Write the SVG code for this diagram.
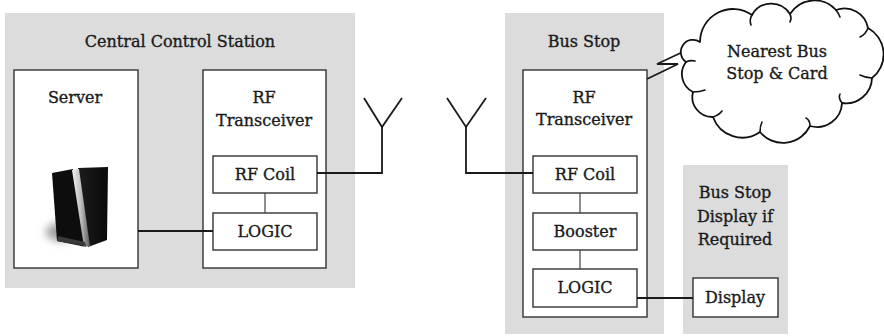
<svg xmlns="http://www.w3.org/2000/svg" width="884" height="336" viewBox="0 0 884 336">
  <defs>
    <style>
      .zone { fill: #dcdcdc; }
      .box { fill: #ffffff; stroke: #333333; stroke-width: 1.4; }
      .wire { fill: none; stroke: #1a1a1a; stroke-width: 1.8; stroke-linejoin: miter; }
      .link { fill: none; stroke: #444444; stroke-width: 1.2; }
      .label { font-family: "DejaVu Serif", "Liberation Serif", serif; font-size: 16px; fill: #1a1a1a; stroke: #1a1a1a; stroke-width: 0.35; text-anchor: middle; }
      .cloud { fill: #ffffff; stroke: #111111; stroke-width: 1.8; stroke-linejoin: round; }
      .curl { fill: none; stroke: #111111; stroke-width: 1.6; stroke-linecap: round; }
    </style>
    <linearGradient id="stripGrad" x1="0" y1="0" x2="1" y2="0">
      <stop offset="0" stop-color="#f2f2f2"/>
      <stop offset="0.5" stop-color="#bdbdbd"/>
      <stop offset="1" stop-color="#5a5a5a"/>
    </linearGradient>
    <linearGradient id="sideGrad" x1="0" y1="0" x2="1" y2="0">
      <stop offset="0" stop-color="#1c1c1c"/>
      <stop offset="1" stop-color="#0a0a0a"/>
    </linearGradient>
    <filter id="soft" x="-50%" y="-50%" width="200%" height="200%">
      <feGaussianBlur stdDeviation="4"/>
    </filter>
  </defs>

  <!-- enclosing areas -->
  <g id="central-station">
    <rect class="zone" x="5" y="13" width="350" height="275"/>
    <text class="label" x="180" y="47">Central Control Station</text>
  </g>
  <g id="bus-stop">
    <rect class="zone" x="505" y="13" width="159" height="321"/>
    <text class="label" x="584" y="47">Bus Stop</text>
  </g>
  <g id="display-area">
    <rect class="zone" x="683" y="165" width="105" height="169"/>
    <text class="label" x="735" y="198">Bus Stop</text>
    <text class="label" x="735" y="222">Display if</text>
    <text class="label" x="735" y="245">Required</text>
  </g>

  <!-- server -->
  <g id="server">
    <rect class="box" x="14" y="70" width="124" height="198"/>
    <text class="label" x="75" y="103">Server</text>
    <ellipse cx="60" cy="232" rx="14" ry="9" fill="#9a9a9a" filter="url(#soft)"/>
    <polygon points="78,168 108,167 107,240 88,247" fill="url(#sideGrad)"/>
    <polygon points="52,173 73,169 86,247 57,241" fill="#0d0d0d"/>
    <polygon points="72,170 79,169 90,246 84,247" fill="url(#stripGrad)"/>
    <polygon points="58,236 85,242 86,246 57,241" fill="#3a3a3a"/>
  </g>

  <!-- central RF transceiver -->
  <g id="central-transceiver">
    <rect class="box" x="203" y="70" width="123" height="198"/>
    <text class="label" x="264" y="103">RF</text>
    <text class="label" x="264" y="126">Transceiver</text>
  </g>
  <g id="central-rf-coil">
    <rect class="box" x="213" y="156" width="104" height="37"/>
    <text class="label" x="265" y="180">RF Coil</text>
  </g>
  <g id="central-logic">
    <rect class="box" x="213" y="213" width="104" height="37"/>
    <text class="label" x="265" y="237">LOGIC</text>
  </g>

  <!-- bus stop RF transceiver -->
  <g id="stop-transceiver">
    <rect class="box" x="523" y="70" width="124" height="247"/>
    <text class="label" x="584" y="103">RF</text>
    <text class="label" x="584" y="125">Transceiver</text>
  </g>
  <g id="stop-rf-coil">
    <rect class="box" x="533" y="156" width="104" height="37"/>
    <text class="label" x="585" y="180">RF Coil</text>
  </g>
  <g id="stop-booster">
    <rect class="box" x="533" y="213" width="104" height="37"/>
    <text class="label" x="585" y="237">Booster</text>
  </g>
  <g id="stop-logic">
    <rect class="box" x="533" y="269" width="104" height="38"/>
    <text class="label" x="585" y="293">LOGIC</text>
  </g>

  <!-- display -->
  <g id="display">
    <rect class="box" x="693" y="278" width="85" height="39"/>
    <text class="label" x="735" y="303">Display</text>
  </g>

  <!-- connectors and antennas -->
  <g id="connectors">
    <line class="link" x1="265" y1="193" x2="265" y2="213"/>
    <line class="link" x1="580" y1="193" x2="580" y2="213"/>
    <line class="link" x1="580" y1="250" x2="580" y2="269"/>
    <line class="wire" x1="138" y1="231" x2="213" y2="231"/>
    <polyline class="wire" points="317,173 382,173 382,127"/>
    <polyline class="wire" points="364,98 382,127 402,98"/>
    <polyline class="wire" points="533,173 466,173 466,127"/>
    <polyline class="wire" points="447,98 466,127 486,98"/>
    <line class="wire" x1="637" y1="298" x2="693" y2="298"/>
    <polyline class="wire" points="647,79 678,64 657,64 702,43"/>
  </g>

  <!-- callout cloud -->
  <g id="callout">
    <path class="cloud" d="M700,42 A33,33 0 0 1 752,15 A22,22 0 0 1 790,14 A29,29 0 0 1 836,10 A24,24 0 0 1 868,28 A30,30 0 0 1 872,78 A26,26 0 0 1 842,103 A25,25 0 0 1 810,126 A30,30 0 0 1 760,132 A31,31 0 0 1 713,117 A20,20 0 0 1 693,92 A20,20 0 0 1 686,62 A12,12 0 0 1 700,42 Z"/>
    <path class="curl" d="M752,15 Q749,20 751,25"/>
    <path class="curl" d="M790,14 Q792,18 790,22"/>
    <path class="curl" d="M836,10 Q839,14 840,17"/>
    <path class="curl" d="M868,28 Q866,34 860,37"/>
    <path class="curl" d="M872,78 Q866,78 860,75"/>
    <path class="curl" d="M842,103 Q838,98 840,94"/>
    <path class="curl" d="M810,126 Q810,120 806,118"/>
    <path class="curl" d="M760,132 Q760,126 762,122"/>
    <path class="curl" d="M713,117 Q719,115 722,111"/>
    <path class="curl" d="M693,92 Q700,92 705,90"/>
    <path class="curl" d="M686,62 Q690,60 695,61"/>
    <text class="label" x="777" y="57">Nearest Bus</text>
    <text class="label" x="777" y="79">Stop &amp; Card</text>
  </g>
</svg>
